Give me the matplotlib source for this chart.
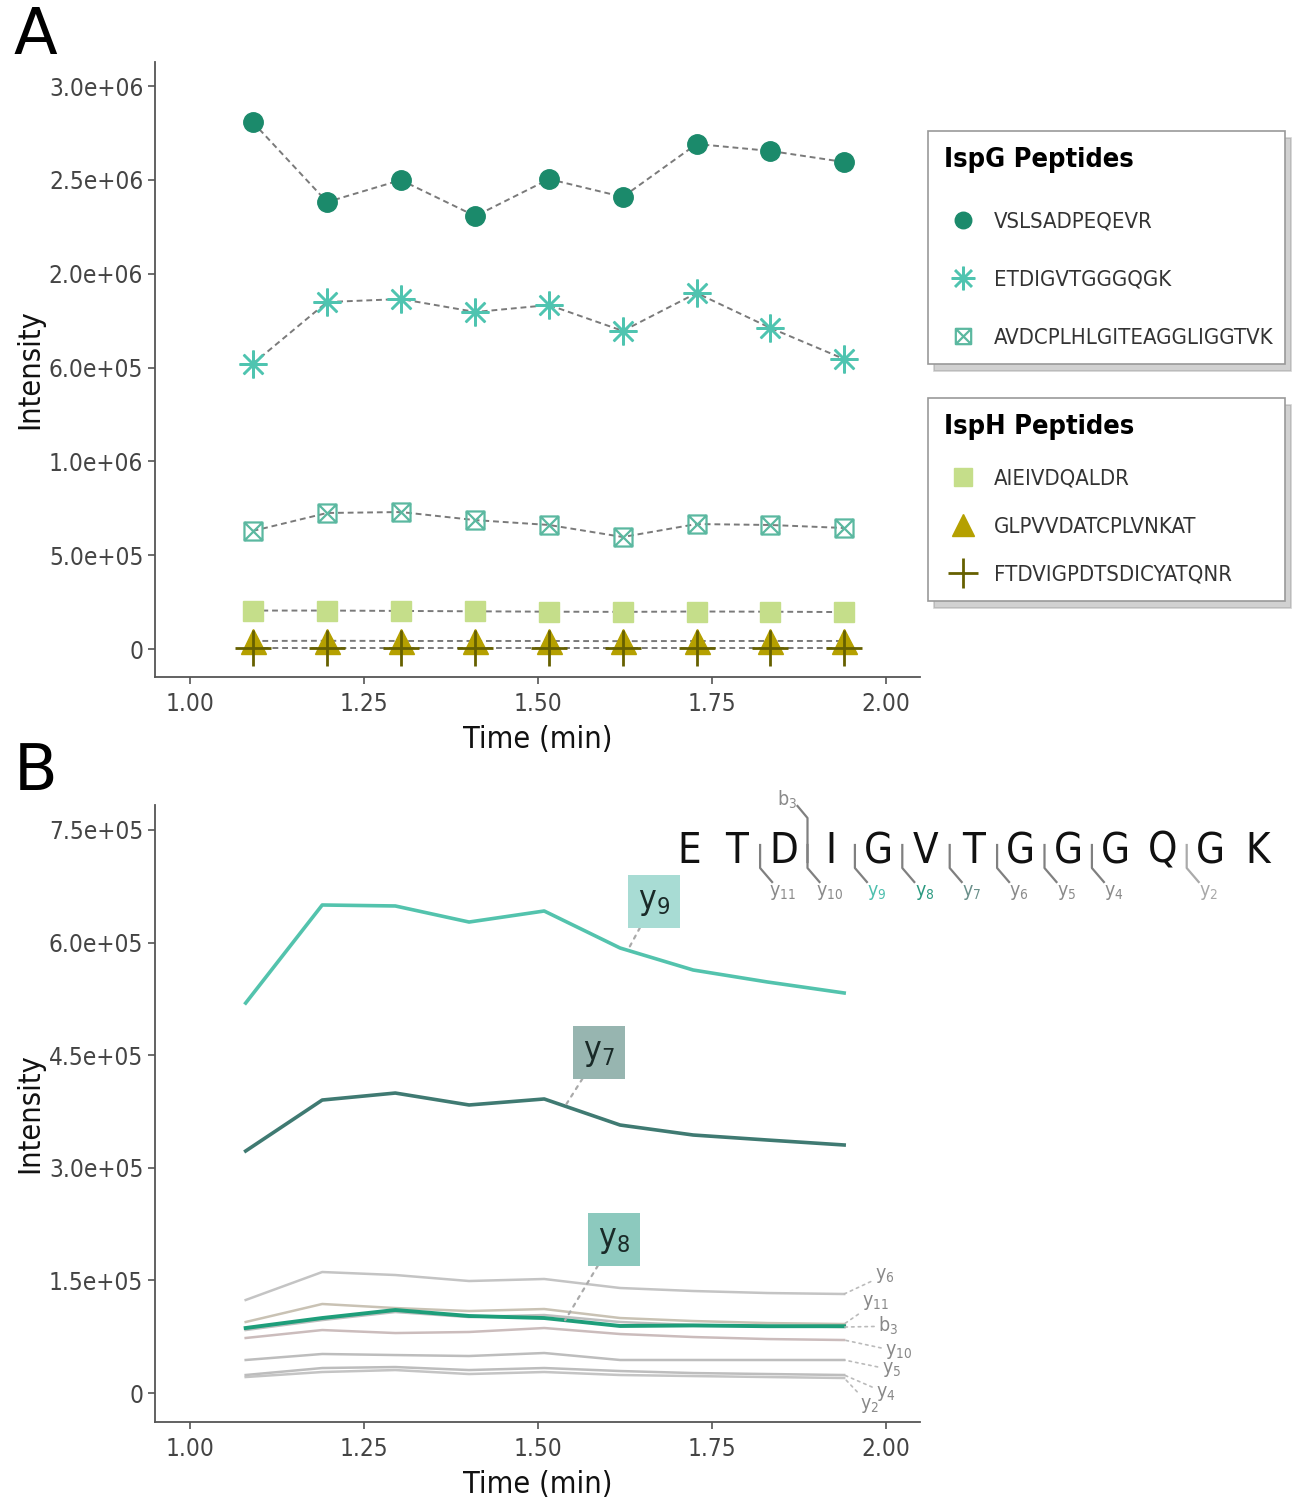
import numpy as np
import matplotlib
matplotlib.use("Agg")
import matplotlib.pyplot as plt
from matplotlib.path import Path
from matplotlib.lines import Line2D

plt.rcParams['font.family'] = ['DejaVu Sans']
plt.rcParams['font.stretch'] = 'condensed'
plt.rcParams['mathtext.fontset'] = 'custom'
plt.rcParams['mathtext.rm'] = 'DejaVu Sans:stretch=condensed'

# ---------------- Panel A data ----------------
times_a = [1.090, 1.197, 1.303, 1.410, 1.516, 1.622, 1.728, 1.834, 1.940]
ispg_names = ["VSLSADPEQEVR", "ETDIGVTGGGQGK", "AVDCPLHLGITEAGGLIGGTVK"]
vslsadpeqevr = [2.808e6, 2.382e6, 2.499e6, 2.307e6, 2.504e6, 2.409e6, 2.691e6, 2.654e6, 2.595e6]
etdigvtgggqgk = [1.519e6, 1.849e6, 1.865e6, 1.796e6, 1.833e6, 1.695e6, 1.897e6, 1.711e6, 1.545e6]
avdcplhl = [0.629e6, 0.725e6, 0.730e6, 0.687e6, 0.661e6, 0.597e6, 0.666e6, 0.661e6, 0.645e6]
isph_names = ["AIEIVDQALDR", "GLPVVDATCPLVNKAT", "FTDVIGPDTSDICYATQNR"]
aieivdqaldr = [0.205e6, 0.205e6, 0.203e6, 0.201e6, 0.199e6, 0.198e6, 0.200e6, 0.199e6, 0.197e6]
glpvvdat = [0.043e6, 0.044e6, 0.043e6, 0.043e6, 0.043e6, 0.042e6, 0.043e6, 0.043e6, 0.043e6]
ftdvigpd = [0.005e6, 0.005e6, 0.005e6, 0.005e6, 0.005e6, 0.005e6, 0.005e6, 0.005e6, 0.005e6]

yticks_a = [0, 0.5e6, 1.0e6, 1.5e6, 2.0e6, 2.5e6, 3.0e6]
yticklabels_a = ['0', '5.0e+05', '1.0e+06', '6.0e+05', '2.0e+06', '2.5e+06', '3.0e+06']
xticks = [1.00, 1.25, 1.50, 1.75, 2.00]
xticklabels = ['1.00', '1.25', '1.50', '1.75', '2.00']

# ---------------- Panel B data ----------------
times_b = [1.080, 1.190, 1.295, 1.401, 1.509, 1.618, 1.723, 1.830, 1.940]
y9 = [5.195e5, 6.501e5, 6.488e5, 6.274e5, 6.421e5, 5.928e5, 5.635e5, 5.475e5, 5.329e5]
y7 = [3.224e5, 3.903e5, 3.996e5, 3.837e5, 3.917e5, 3.570e5, 3.437e5, 3.370e5, 3.304e5]
y8 = [0.866e5, 0.999e5, 1.106e5, 1.026e5, 0.999e5, 0.893e5, 0.90e5, 0.89e5, 0.89e5]
y6 = [1.239e5, 1.612e5, 1.572e5, 1.492e5, 1.519e5, 1.399e5, 1.359e5, 1.332e5, 1.319e5]
y11 = [0.946e5, 1.186e5, 1.132e5, 1.092e5, 1.119e5, 0.999e5, 0.959e5, 0.932e5, 0.919e5]
b3 = [0.839e5, 0.972e5, 1.079e5, 1.012e5, 1.039e5, 0.946e5, 0.906e5, 0.893e5, 0.879e5]
y10 = [0.733e5, 0.839e5, 0.799e5, 0.813e5, 0.866e5, 0.786e5, 0.746e5, 0.719e5, 0.706e5]
y5 = [0.440e5, 0.520e5, 0.506e5, 0.493e5, 0.533e5, 0.440e5, 0.440e5, 0.440e5, 0.440e5]
y4 = [0.240e5, 0.333e5, 0.346e5, 0.306e5, 0.333e5, 0.293e5, 0.266e5, 0.253e5, 0.240e5]
y2 = [0.213e5, 0.280e5, 0.306e5, 0.253e5, 0.280e5, 0.240e5, 0.226e5, 0.213e5, 0.200e5]
yticks_b = [0, 1.5e5, 3.0e5, 4.5e5, 6.0e5, 7.5e5]
yticklabels_b = ['0', '1.5e+05', '3.0e+05', '4.5e+05', '6.0e+05', '7.5e+05']

peptide = list("ETDIGVTGGGQGK")
# fragment: (ion letter, number, cleavage after residue index, colour, drawn above?)
fragments = [("y", "11", 1, '#8a8a8a', False), ("y", "10", 2, '#8a8a8a', False),
             ("y", "9", 3, '#4dbfae', False), ("y", "8", 4, '#2a9980', False),
             ("y", "7", 5, '#6a8f8a', False), ("y", "6", 6, '#8a8a8a', False),
             ("y", "5", 7, '#8a8a8a', False), ("y", "4", 8, '#8a8a8a', False),
             ("y", "2", 10, '#a8a8a8', False), ("b", "3", 2, '#8a8a8a', True)]

# ---------------- figure ----------------
fig = plt.figure(figsize=(13.16, 15.0), dpi=100)
W, H = 1316, 1500

def style_axes(ax):
    for s in ['top', 'right']:
        ax.spines[s].set_visible(False)
    for s in ['left', 'bottom']:
        ax.spines[s].set_color('#555555')
        ax.spines[s].set_linewidth(1.3)
    ax.tick_params(colors='#555555', length=5, width=1.2, labelsize=17.5,
                   labelcolor='#444444')
    ax.tick_params(axis='x', pad=6)
    ax.set_xlim(0.9497, 2.049)
    ax.set_xticks(xticks)
    ax.set_xticklabels(xticklabels)
    ax.set_xlabel('Time (min)', fontsize=22, color='#111111', labelpad=6)
    ax.set_ylabel('Intensity', fontsize=22, color='#111111', labelpad=3)

# Panel A
axA = fig.add_axes([155 / W, 1 - 677 / H, (920 - 155) / W, (677 - 62) / H])
style_axes(axA)
axA.set_ylim(-0.149e6, 3.128e6)
axA.set_yticks(yticks_a)
axA.set_yticklabels(yticklabels_a)

sqx = Path([(-1, -1), (1, -1), (1, 1), (-1, 1), (-1, -1), (-1, -1), (1, 1), (-1, 1), (1, -1)],
           [Path.MOVETO, Path.LINETO, Path.LINETO, Path.LINETO, Path.CLOSEPOLY,
            Path.MOVETO, Path.LINETO, Path.MOVETO, Path.LINETO])

series_a = [
    (vslsadpeqevr, dict(marker='o', color='#1b8a6b', ms=14, mec='#1b8a6b')),
    (etdigvtgggqgk, dict(marker=(8, 2, 0), color='#4fc4b0', ms=20, mew=1.8)),
    (avdcplhl, dict(marker=sqx, color='#5bb8a0', ms=13, mfc='none', mew=1.6)),
    (aieivdqaldr, dict(marker='s', color='#c5de8a', ms=15, mec='#c5de8a')),
    (glpvvdat, dict(marker='^', color='#b5a000', ms=18, mec='#b5a000')),
    (ftdvigpd, dict(marker='+', color='#666000', ms=26, mew=2.0)),
]
for vals, kw in series_a:
    axA.plot(times_a, vals, linestyle=(0, (3, 2)), color='#7a7a7a', lw=1.4, zorder=2)
for vals, kw in series_a:
    axA.plot(times_a, vals, linestyle='none', zorder=3, **kw)

def handles(items):
    hs = []
    for vals, kw in items:
        k = dict(kw)
        k['ms'] = k['ms'] * 0.85
        hs.append(Line2D([], [], linestyle='none', **k))
    return hs

leg_kw = dict(loc='upper left', bbox_transform=fig.transFigure, mode='expand',
              frameon=True, fancybox=False, fontsize=15.8, title_fontsize=19.5,
              alignment='left', handletextpad=0.55, handlelength=1.7, borderpad=0.75,
              shadow={'color': '#999999', 'alpha': 0.45, 'ox': 4, 'oy': -5},
              borderaxespad=0)
leg1 = axA.legend(handles(series_a[:3]), ispg_names, title='IspG Peptides', labelspacing=1.74,
                  bbox_to_anchor=(928 / W, 1 - 131 / H, 357 / W, 0), **leg_kw)
leg2 = axA.legend(handles(series_a[3:]), isph_names, title='IspH Peptides', labelspacing=1.28,
                  bbox_to_anchor=(928 / W, 1 - 398 / H, 357 / W, 0), **leg_kw)
axA.add_artist(leg1)
for leg in (leg1, leg2):
    leg.get_frame().set_edgecolor('#999999')
    leg.get_frame().set_linewidth(1.2)
    leg.get_title().set_fontweight('bold')
    for t in leg.get_texts():
        t.set_color('#333333')

# Panel B
axB = fig.add_axes([155 / W, 1 - 1422 / H, (920 - 155) / W, (1422 - 805) / H])
style_axes(axB)
axB.set_ylim(-0.386e5, 7.833e5)
axB.set_yticks(yticks_b)
axB.set_yticklabels(yticklabels_b)

grey_series = [(y2, '#c4c4c4', "y", "2"), (y4, '#bdbdbd', "y", "4"), (y5, '#bdbdbd', "y", "5"),
               (y10, '#cbbcbc', "y", "10"), (b3, '#bfbfbf', "b", "3"),
               (y11, '#c9c2b4', "y", "11"), (y6, '#c4c4c4', "y", "6")]
for vals, c, a, s in grey_series:
    axB.plot(times_b, vals, color=c, lw=1.8, zorder=2)
axB.plot(times_b, y8, color='#1e9e7a', lw=2.8, zorder=3)
axB.plot(times_b, y7, color='#3f7a72', lw=2.6, zorder=3)
axB.plot(times_b, y9, color='#53c3ad', lw=2.6, zorder=3)

# highlighted labels with boxes
box_labels = [("9", y9, 1.629, 1.667, 6.55e5, '#a8dcd4'),
              ("7", y7, 1.539, 1.588, 4.54e5, '#97b5b0'),
              ("8", y8, 1.539, 1.609, 2.05e5, '#8cc9be')]
for sub, vals, px, tx, ty, fc in box_labels:
    py = np.interp(px, times_b, vals)
    axB.annotate(r'y$_{\mathregular{%s}}$' % sub, xy=(px, py), xytext=(tx, ty),
                 ha='center', va='center', fontsize=24, color='#1a2a28',
                 bbox=dict(boxstyle='square,pad=0.3', fc=fc, ec='none'),
                 arrowprops=dict(arrowstyle='-', linestyle=(0, (1.5, 2.5)), color='#aaaaaa',
                                 lw=1.6, shrinkA=0, shrinkB=0), zorder=5)

# right side labels with leader lines
right_pos = {"6": (1.984, 1.57e5), "11": (1.966, 1.21e5), "3": (1.989, 0.89e5),
             "10": (1.999, 0.55e5), "5": (1.994, 0.31e5), "4": (1.986, 0.0),
             "2": (1.963, -0.16e5)}
for vals, c, a, s in grey_series:
    tx, ty = right_pos[s]
    axB.annotate(r'%s$_{\mathregular{%s}}$' % (a, s), xy=(times_b[-1], vals[-1]), xytext=(tx, ty),
                 ha='left', va='center', fontsize=14, color='#888888',
                 arrowprops=dict(arrowstyle='-', linestyle=(0, (1.5, 2.5)), color='#bbbbbb',
                                 lw=1.2, shrinkA=1, shrinkB=0))

# overlay for panel letters and peptide diagram
ov = fig.add_axes([0, 0, 1, 1], zorder=10)
ov.set_xlim(0, W)
ov.set_ylim(H, 0)
ov.axis('off')
ov.patch.set_alpha(0)
ov.text(14, 36, 'A', fontsize=46, stretch='normal', va='center', ha='left')
ov.text(14, 772, 'B', fontsize=46, stretch='normal', va='center', ha='left')

x0, step, ybase = 689, 47.4, 851
for i, r in enumerate(peptide):
    ov.text(x0 + i * step, ybase, r, fontsize=30, ha='center', va='center', color='#111111')
for a, s, k, c, above in fragments:
    xc = x0 + step * (k + 0.5)
    lc = '#aaaaaa' if s == "2" else '#808080'
    if above:
        ov.plot([xc, xc, xc - 10], [862, 818, 806], color=lc, lw=1.6)
        ov.text(xc - 20, 800, r'%s$_{\mathregular{%s}}$' % (a, s), fontsize=14, color=c,
                ha='center', va='center')
    else:
        ov.plot([xc, xc, xc + 12], [845, 868, 882], color=lc, lw=1.6)
        ov.text(xc + 22, 893, r'%s$_{\mathregular{%s}}$' % (a, s), fontsize=14, color=c,
                ha='center', va='center')

fig.savefig('out.png', dpi=100)
